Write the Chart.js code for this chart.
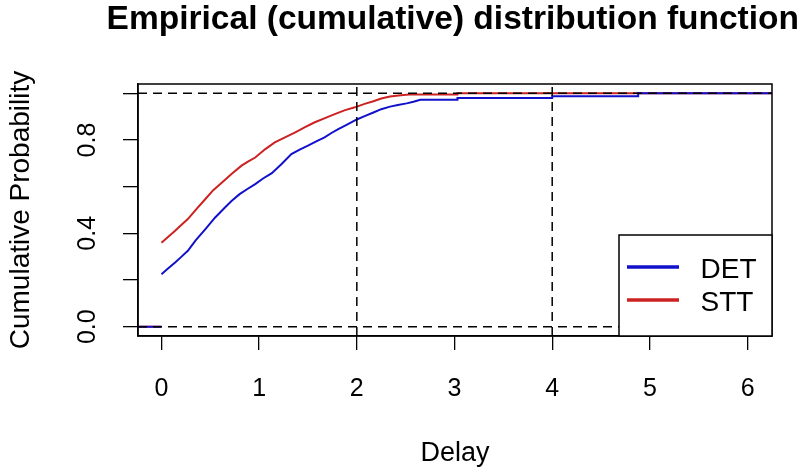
<!DOCTYPE html>
<html><head><meta charset="utf-8">
<script src="https://cdn.jsdelivr.net/npm/chart.js@4/dist/chart.umd.min.js"></script>
<style>html,body{margin:0;padding:0;background:#fff;overflow:hidden;}</style>
</head><body>
<canvas id="c" width="801" height="474"></canvas>
<script>
// ---- chart text ----
const chartTitle = 'Empirical (cumulative) distribution function';
const xAxisTitle = 'Delay';
const yAxisTitle = 'Cumulative Probability';
const seriesNames = ['DET', 'STT'];
const seriesColors = ['#1111CC', '#CC2222'];

// ---- axes ----
const xRange = [-0.24, 6.25];
const yRange = [-0.04, 1.04];
const xTicks = [0, 1, 2, 3, 4, 5, 6];
const xTickLabels = ['0', '1', '2', '3', '4', '5', '6'];
const yTicks = [0, 0.2, 0.4, 0.6, 0.8, 1.0];
const yTickLabels = ['0.0', '', '0.4', '', '0.8', ''];

// ---- reference (dashed) lines ----
const refH = [0, 1];
const refV = [2, 4];

// ---- ECDF traces ----
const detX = [0, 0.07, 0.14, 0.2, 0.27, 0.35, 0.45, 0.55, 0.65, 0.72, 0.8, 0.88, 0.96, 1.04, 1.13, 1.23, 1.33, 1.42, 1.5, 1.58, 1.67, 1.74, 1.81, 1.9, 2.0, 2.08, 2.17, 2.25, 2.34, 2.42, 2.51, 2.58, 2.65, 3.03, 3.03, 4.0, 4.0, 4.88, 4.88];
const detY = [0.225, 0.25, 0.275, 0.298, 0.325, 0.37, 0.418, 0.468, 0.511, 0.54, 0.568, 0.59, 0.611, 0.635, 0.658, 0.697, 0.74, 0.76, 0.776, 0.793, 0.811, 0.83, 0.847, 0.866, 0.888, 0.902, 0.918, 0.932, 0.943, 0.95, 0.957, 0.964, 0.972, 0.972, 0.98, 0.98, 0.987, 0.987, 1.0];
const sttX = [0, 0.07, 0.14, 0.2, 0.27, 0.36, 0.45, 0.53, 0.62, 0.72, 0.82, 0.89, 0.96, 1.06, 1.16, 1.27, 1.37, 1.47, 1.57, 1.68, 1.78, 1.88, 1.98, 2.08, 2.17, 2.25, 2.34, 2.45, 2.54, 3.03, 3.03];
const sttY = [0.36, 0.385, 0.411, 0.435, 0.461, 0.505, 0.547, 0.585, 0.618, 0.655, 0.69, 0.708, 0.725, 0.76, 0.79, 0.812, 0.833, 0.855, 0.876, 0.895, 0.912, 0.928, 0.94, 0.955, 0.966, 0.978, 0.986, 0.992, 0.995, 0.995, 1.0];

const FONT = '"Liberation Sans", Arial, Helvetica, sans-serif';
Chart.defaults.font.family = FONT;
Chart.defaults.color = '#000';

function ecdfPoints(xs, ys) {
  const pts = [{x: xRange[0], y: 0}, {x: xs[0], y: 0}, {x: xs[0], y: null}];
  xs.forEach((x, i) => pts.push({x: x, y: ys[i]}));
  pts.push({x: xRange[1], y: ys[ys.length - 1]});
  return pts;
}

const dashStyle = {borderColor: '#000', borderWidth: 1.5, borderDash: [9, 6], pointRadius: 0, fill: false, order: 0};
const refSets = [];
refH.forEach(v => refSets.push(Object.assign({label: 'h' + v, data: [{x: xRange[0], y: v}, {x: xRange[1], y: v}]}, dashStyle)));
refV.forEach(v => refSets.push(Object.assign({label: 'v' + v, data: [{x: v, y: yRange[0]}, {x: v, y: yRange[1]}]}, dashStyle)));

const seriesSets = [
  {label: seriesNames[0], data: ecdfPoints(detX, detY), borderColor: seriesColors[0], borderWidth: 2, pointRadius: 0, fill: false, tension: 0, spanGaps: false, order: 1},
  {label: seriesNames[1], data: ecdfPoints(sttX, sttY), borderColor: seriesColors[1], borderWidth: 2, pointRadius: 0, fill: false, tension: 0, spanGaps: false, order: 2}
];

const framePlugin = {
  id: 'frame',
  afterDatasetsDraw(chart) {
    const {ctx, chartArea: a} = chart;
    ctx.save();
    ctx.strokeStyle = '#000';
    ctx.lineWidth = 1.5;
    ctx.strokeRect(a.left, a.top, a.right - a.left, a.bottom - a.top);
    // legend box (inside plot, bottom-right)
    const w = 153, h = 101;
    const L = a.right - w, T = a.bottom - h;
    ctx.fillStyle = '#fff';
    ctx.fillRect(L, T, w, h);
    ctx.strokeRect(L, T, w, h);
    seriesNames.forEach((name, i) => {
      const y = T + 32 + i * 33;
      ctx.strokeStyle = seriesColors[i];
      ctx.lineWidth = 3.5;
      ctx.beginPath();
      ctx.moveTo(L + 8, y);
      ctx.lineTo(L + 60, y);
      ctx.stroke();
      ctx.fillStyle = '#000';
      ctx.font = '28px ' + FONT;
      ctx.textBaseline = 'middle';
      ctx.textAlign = 'left';
      ctx.fillText(name, L + 81.5, y + 3);
    });
    ctx.restore();
  }
};

new Chart(document.getElementById('c'), {
  type: 'line',
  data: {datasets: seriesSets.concat(refSets)},
  options: {
    responsive: false,
    animation: false,
    events: [],
    layout: {padding: {left: 0, right: 2, top: 0, bottom: 0}},
    plugins: {
      legend: {display: false},
      tooltip: {enabled: false},
      title: {
        display: true, text: chartTitle, align: 'end', color: '#000',
        font: {size: 33.5, weight: 'bold', family: FONT, lineHeight: 1.2},
        padding: {top: 0, bottom: 43.8}
      }
    },
    scales: {
      x: {
        type: 'linear', position: 'bottom', min: xRange[0], max: xRange[1],
        afterBuildTicks: s => { s.ticks = xTicks.map(v => ({value: v})); },
        afterFit: s => { s.height = 138; s.paddingLeft = 0; s.paddingRight = 29; },
        ticks: {autoSkip: false, maxRotation: 0, minRotation: 0, padding: 24, color: '#000',
          font: {size: 25, family: FONT, lineHeight: 1.2},
          callback: (v, i) => xTickLabels[i]},
        grid: {drawOnChartArea: false, drawTicks: true, tickLength: 14, color: '#000', lineWidth: 1.3},
        border: {display: true, color: '#000', width: 1.5},
        title: {display: true, text: xAxisTitle, color: '#000', font: {size: 27, family: FONT, lineHeight: 1.2}, padding: {top: 0, bottom: 4}}
      },
      y: {
        type: 'linear', position: 'left', min: yRange[0], max: yRange[1],
        afterBuildTicks: s => { s.ticks = yTicks.map(v => ({value: v})); },
        afterFit: s => { s.width = 138; s.paddingTop = 0; s.paddingBottom = 0; },
        ticks: {autoSkip: false, minRotation: 90, maxRotation: 90, crossAlign: 'center', padding: 18, color: '#000',
          font: {size: 25, family: FONT, lineHeight: 1.2},
          callback: (v, i) => yTickLabels[i]},
        grid: {drawOnChartArea: false, drawTicks: true, tickLength: 15, color: '#000', lineWidth: 1.3},
        border: {display: true, color: '#000', width: 1.5},
        title: {display: true, text: yAxisTitle, color: '#000', font: {size: 28, family: FONT, lineHeight: 1.2}, padding: {top: 4.8, bottom: 0}}
      }
    }
  },
  plugins: [framePlugin]
});
</script>
</body></html>
